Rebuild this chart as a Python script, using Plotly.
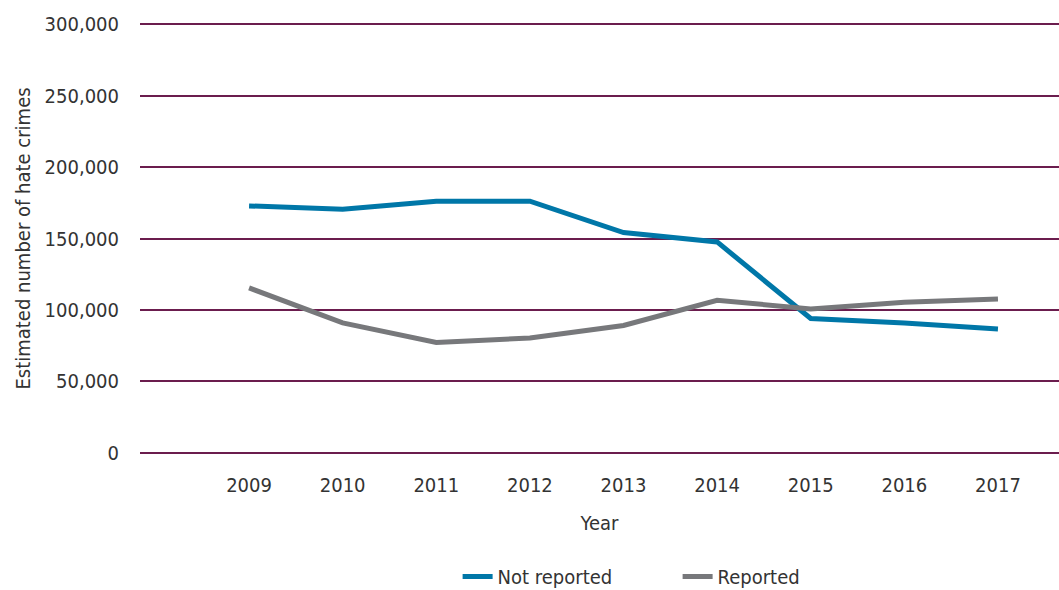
import plotly.graph_objects as go

years = [2009, 2010, 2011, 2012, 2013, 2014, 2015, 2016, 2017]
not_reported = [172800, 170500, 176100, 176100, 154200, 147600, 94000, 90900, 86700]
reported = [115400, 90900, 77200, 80400, 89100, 106800, 100700, 105400, 107700]
y_ticks = [0, 50000, 100000, 150000, 200000, 250000, 300000]

FONT = "DejaVu Sans Condensed, Liberation Sans Narrow, Roboto, sans-serif"
TXT = "#333333"
FS = 20

fig = go.Figure()
fig.add_trace(go.Scatter(x=years, y=not_reported, mode="lines", name="Not reported",
                         line=dict(color="#0077a8", width=5)))
fig.add_trace(go.Scatter(x=years, y=reported, mode="lines", name="Reported",
                         line=dict(color="#77787b", width=5)))

fig.update_layout(
    width=1059, height=590,
    margin=dict(l=140, r=0, t=17, b=130, autoexpand=False),
    paper_bgcolor="white", plot_bgcolor="white",
    font=dict(family=FONT, size=FS, color=TXT),
    showlegend=True,
    legend=dict(orientation="h", x=0.585, xanchor="center", y=-0.263,
                yanchor="middle", entrywidth=175, entrywidthmode="pixels",
                font=dict(size=FS, color=TXT)),
    xaxis=dict(
        range=[2007.835, 2017.652], tickmode="array", tickvals=years,
        ticktext=[str(y) for y in years], showgrid=False, zeroline=False,
        showline=False, ticks="", ticklabelstandoff=11, automargin=False,
        title=dict(text="Year", standoff=19, font=dict(size=FS, color=TXT)),
    ),
    yaxis=dict(
        range=[-5000, 305000], tickmode="array", tickvals=y_ticks,
        ticktext=[f"{v:,}" for v in y_ticks], showgrid=True,
        gridcolor="#6b1d4e", gridwidth=2, zeroline=False, showline=False,
        ticks="", ticklabelstandoff=20, automargin=False,
        title=dict(text="Estimated number of hate crimes", standoff=8,
                   font=dict(size=FS, color=TXT)),
    ),
)

fig.write_html("out.html", config={"displayModeBar": False},
               post_script="document.body.style.margin='0';document.body.style.overflow='hidden';")
